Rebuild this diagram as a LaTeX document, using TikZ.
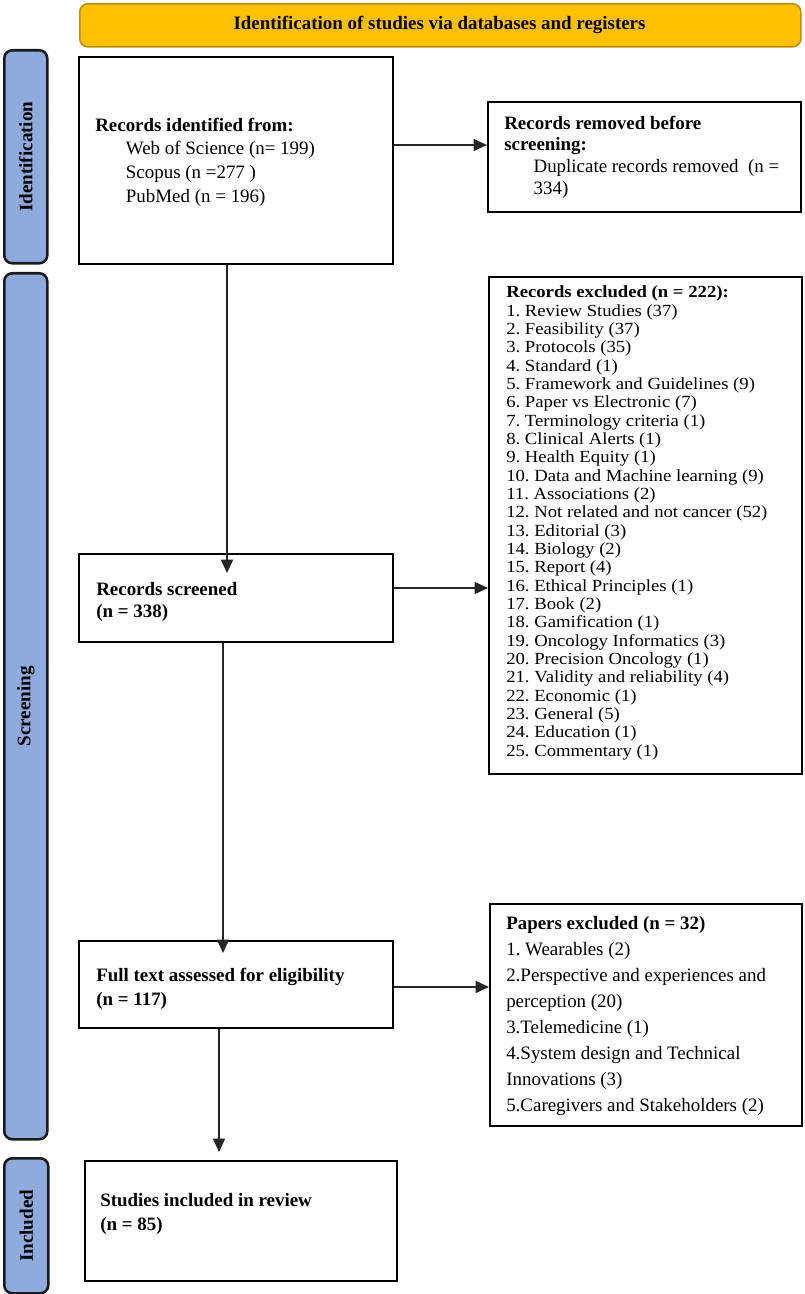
\documentclass[tikz,border=0pt]{standalone}
\usepackage{fontspec}
\setmainfont{Liberation Serif}
\newfontfamily\wideserif[FakeStretch=1.1]{Liberation Serif}
\usetikzlibrary{arrows.meta,calc}
\definecolor{bannerfill}{HTML}{FFC000}
\definecolor{bannerline}{HTML}{B8900A}
\definecolor{labfill}{HTML}{8FAADC}
\definecolor{labline}{HTML}{1A1A1A}
\tikzset{
  px/.style={x=0.75pt,y=-0.75pt},
  box/.style={draw=black,line width=1.5pt,fill=white,anchor=north west,inner sep=0pt},
  banner/.style={draw=bannerline,line width=1.2pt,fill=bannerfill,rounded corners=6pt,anchor=north west,inner sep=0pt},
  sidelab/.style={draw=labline,line width=1.9pt,fill=labfill,rounded corners=6pt,anchor=north west,inner sep=0pt},
  labtext/.style={rotate=90,font=\fontsize{14.3pt}{16pt}\selectfont\bfseries,inner sep=0pt},
  txt/.style={anchor=west,align=left,inner sep=0pt,font=\fontsize{14.2pt}{17.5pt}\selectfont},
  arr/.style={line width=1.1pt,draw=black!85,-{Triangle[length=10pt,width=9pt]}},
}
\begin{document}
\frenchspacing
\begin{tikzpicture}[px]
\useasboundingbox (0,0) rectangle (804,1294);
% banner
\node[banner,minimum width=540.75pt,minimum height=32.25pt] (ban) at (79,3) {};
\node[font=\fontsize{14.2pt}{17pt}\selectfont\bfseries,inner sep=0pt] (bant) at (439.5,25) {Identification of studies via databases and registers};
% side labels
\node[sidelab,minimum width=32.25pt,minimum height=159.75pt] (lab1) at (3,49) {};
\node[labtext] (lab1t) at (lab1.center) {Identification};
\node[sidelab,minimum width=32.25pt,minimum height=649.5pt] (lab2) at (3,272) {};
\node[labtext] (lab2t) at (lab2.center) {Screening};
\node[sidelab,minimum width=33pt,minimum height=101.25pt] (lab3) at (3,1157) {};
\node[labtext] (lab3t) at (lab3.center) {Included};
% boxes
\node[box,minimum width=235.5pt,minimum height=155.25pt] (id) at (78,56) {};
\node[txt,font=\fontsize{14.2pt}{17.8pt}\selectfont] (idt) at (95,162) {\textbf{Records identified from:}\\
\hspace*{23pt}Web of Science (n= 199)\\
\hspace*{23pt}Scopus (n =277 )\\
\hspace*{23pt}PubMed (n = 196)};
\node[box,minimum width=234.75pt,minimum height=82.5pt] (rem) at (487,101) {};
\node[txt,font=\fontsize{14.2pt}{16.3pt}\selectfont] (remt) at (504,157) {\textbf{Records removed before}\\
\textbf{screening:}\\
\hspace*{22pt}Duplicate records removed\ \ (n =\\
\hspace*{22pt}334)};
\node[box,minimum width=235.5pt,minimum height=66pt] (scr) at (78,553) {};
\node[txt,font=\fontsize{14.2pt}{16.5pt}\selectfont] (scrt) at (96,602) {\textbf{Records screened}\\ \textbf{(n = 338)}};
\node[box,minimum width=234.75pt,minimum height=372.75pt] (exc) at (488,276) {};
\node[txt,font=\wideserif\fontsize{12.75pt}{13.75pt}\selectfont] (exct) at (506,523) {\textbf{Records excluded (n = 222):}\\
1. Review Studies (37)\\
2. Feasibility (37)\\
3. Protocols (35)\\
4. Standard (1)\\
5. Framework and Guidelines (9)\\
6. Paper vs Electronic (7)\\
7. Terminology criteria (1)\\
8. Clinical Alerts (1)\\
9. Health Equity (1)\\
10. Data and Machine learning (9)\\
11. Associations (2)\\
12. Not related and not cancer (52)\\
13. Editorial (3)\\
14. Biology (2)\\
15. Report (4)\\
16. Ethical Principles (1)\\
17. Book (2)\\
18. Gamification (1)\\
19. Oncology Informatics (3)\\
20. Precision Oncology (1)\\
21. Validity and reliability (4)\\
22. Economic (1)\\
23. General (5)\\
24. Education (1)\\
25. Commentary (1)};
\node[box,minimum width=235.5pt,minimum height=65.25pt] (full) at (78,940) {};
\node[txt] (fullt) at (96,989) {\textbf{Full text assessed for eligibility}\\ \textbf{(n = 117)}};
\node[box,minimum width=234pt,minimum height=166.5pt] (pap) at (489,903) {};
\node[txt,font=\fontsize{14.2pt}{19.5pt}\selectfont] (papt) at (506,1016) {\textbf{Papers excluded (n = 32)}\\
1. Wearables (2)\\
2.Perspective and experiences and\\
perception (20)\\
3.Telemedicine (1)\\
4.System design and Technical\\
Innovations (3)\\
5.Caregivers and Stakeholders (2)};
\node[box,minimum width=234pt,minimum height=90pt] (inc) at (84,1160) {};
\node[txt] (inct) at (100,1214) {\textbf{Studies included in review}\\ \textbf{(n = 85)}};
% connectors
\draw[arr] (id.east |- 0,145) -- (rem.west |- 0,145);
\draw[arr] (id.south -| 227,0) -- ($(scr.north -| 227,0)+(0,20)$);
\draw[arr] (scr.east |- 0,588) -- (exc.west |- 0,588);
\draw[arr] (scr.south -| 223,0) -- ($(full.north -| 223,0)+(0,13)$);
\draw[arr] (full.east |- 0,987) -- (pap.west |- 0,987);
\draw[arr] (full.south -| 219,0) -- ($(inc.north -| 219,0)+(0,-8)$);
\end{tikzpicture}
\end{document}
